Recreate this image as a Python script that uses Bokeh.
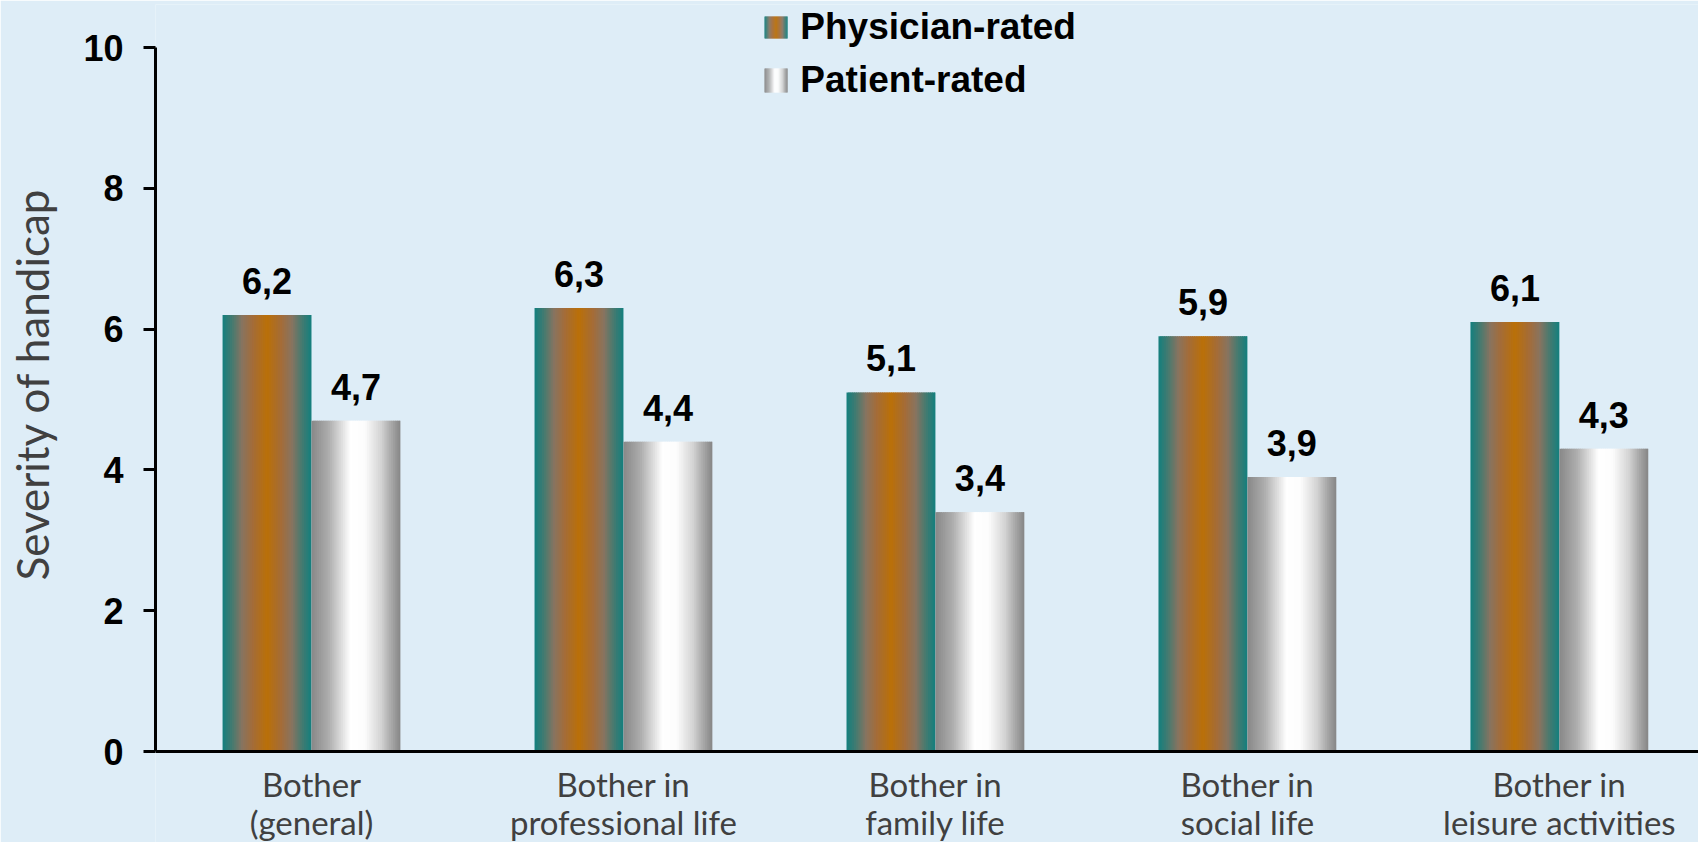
from bokeh.plotting import figure
from bokeh.models import Range1d, FixedTicker, ColumnDataSource
from bokeh.core.properties import value
from bokeh.embed import file_html
from bokeh.resources import INLINE

# ---- data ----
categories = ["Bother\n(general)", "Bother in\nprofessional life", "Bother in\nfamily life",
              "Bother in\nsocial life", "Bother in\nleisure activities"]
series = ["Physician-rated", "Patient-rated"]
physician = [6.2, 6.3, 5.1, 5.9, 6.1]
patient = [4.7, 4.4, 3.4, 3.9, 4.3]
y_ticks = [0, 2, 4, 6, 8, 10]
y_title = "Severity of handicap"

# ---- style ----
BG = "#deedf7"
TXT = "#404040"
PHYS_STOPS = [(0.0, (18, 128, 126)), (0.11, (70, 122, 112)), (0.22, (136, 116, 96)),
              (0.34, (164, 108, 56)), (0.5, (186, 112, 8)), (0.66, (164, 108, 56)),
              (0.78, (136, 116, 96)), (0.89, (70, 122, 112)), (1.0, (18, 128, 126))]
PAT_STOPS = [(0.0, (136, 136, 136)), (0.19, (172, 172, 172)), (0.33, (218, 218, 218)),
             (0.44, (255, 255, 255)), (0.6, (252, 252, 252)), (0.78, (212, 212, 212)),
             (0.89, (170, 170, 170)), (1.0, (134, 134, 134))]
BAR_W = 0.285
OFFS = [-BAR_W / 2, BAR_W / 2]
N = 48
TITLE_PAD = "\u00a0" * 7   # shifts the centred axis title up, as in the original


def grad(t, stops):
    for (t0, c0), (t1, c1) in zip(stops[:-1], stops[1:]):
        if t0 <= t <= t1:
            f = (t - t0) / (t1 - t0) if t1 > t0 else 0
            c = [round(a + (b - a) * f) for a, b in zip(c0, c1)]
            return "#%02x%02x%02x" % tuple(c)
    return "#%02x%02x%02x" % stops[-1][1]


def strips(xc, bottoms, tops, width, stops):
    L, R, B, T, C = [], [], [], [], []
    sw = width / N
    for x, b, v in zip(xc, bottoms, tops):
        x0 = x - width / 2
        for i in range(N):
            L.append(x0 + i * sw)
            R.append(min(x0 + (i + 1.7) * sw, x0 + width))
            B.append(b)
            T.append(v)
            C.append(grad((i + 0.5) / N, stops))
    return dict(left=L, right=R, bottom=B, top=T, color=C)


p = figure(width=1698, height=842, x_range=Range1d(-0.5, 4.446), y_range=Range1d(-1.2926, 10.611),
           output_backend="svg", toolbar_location=None,
           min_border_left=155, min_border_right=0, min_border_top=4, min_border_bottom=0,
           background_fill_color=BG, border_fill_color=BG, outline_line_color=None)
p.grid.visible = False

idx = list(range(len(categories)))
for vals, off, stops in [(physician, OFFS[0], PHYS_STOPS), (patient, OFFS[1], PAT_STOPS)]:
    xc = [i + off for i in idx]
    src = ColumnDataSource(strips(xc, [0] * len(vals), vals, BAR_W, stops))
    p.quad(left="left", right="right", bottom="bottom", top="top", fill_color="color",
           line_color=None, source=src)
    lab = ColumnDataSource(dict(x=xc, y=vals, t=[f"{v:.1f}".replace(".", ",") for v in vals]))
    p.text(x="x", y="y", text="t", source=lab, y_offset=-34, text_align="center",
           text_baseline="alphabetic", text_font=value("Liberation Sans"), text_font_style="bold",
           text_font_size=value("36px"), text_color="black")

# ---- legend (manual, gradient swatches) ----
LEG_X0, LEG_X1, LEG_TX = 1.452, 1.526, 1.567
leg_rows = [(10.128, 10.440, 10.30), (9.361, 9.702, 9.545)]
for name, stops, (yb, yt, ytx) in zip(series, [PHYS_STOPS, PAT_STOPS], leg_rows):
    src = ColumnDataSource(strips([(LEG_X0 + LEG_X1) / 2], [yb], [yt], LEG_X1 - LEG_X0, stops))
    p.quad(left="left", right="right", bottom="bottom", top="top", fill_color="color",
           line_color=None, source=src)
    p.text(x=[LEG_TX], y=[ytx], text=[name], text_align="left", text_baseline="alphabetic",
           text_font=value("Liberation Sans"), text_font_style="bold",
           text_font_size=value("37px"), text_color="black")

# ---- axes ----
ya = p.yaxis[0]
ya.ticker = FixedTicker(ticks=y_ticks)
ya.bounds = (0, 10)
ya.axis_line_width = 3
ya.axis_line_color = "black"
ya.major_tick_line_width = 3
ya.major_tick_line_color = "black"
ya.major_tick_out = 12
ya.major_tick_in = 0
ya.minor_tick_line_color = None
ya.major_label_text_font = "Liberation Sans"
ya.major_label_text_font_style = "bold"
ya.major_label_text_font_size = "36px"
ya.major_label_text_color = "black"
ya.major_label_standoff = 20
ya.axis_label = TITLE_PAD + y_title
ya.axis_label_text_font = "Lato"
ya.axis_label_text_font_style = "normal"
ya.axis_label_text_font_size = "44px"
ya.axis_label_text_color = TXT
ya.axis_label_standoff = 22

xa = p.xaxis[0]
xa.fixed_location = 0
xa.ticker = FixedTicker(ticks=idx)
xa.major_label_overrides = {i: c for i, c in zip(idx, categories)}
xa.major_tick_line_color = None
xa.minor_tick_line_color = None
xa.axis_line_width = 3
xa.axis_line_color = "black"
xa.major_label_text_font = "Lato"
xa.major_label_text_font_size = "33px"
xa.major_label_text_color = TXT
xa.major_label_text_line_height = 0.96
xa.major_label_standoff = 6

open("out.html", "w").write(file_html(p, INLINE))
